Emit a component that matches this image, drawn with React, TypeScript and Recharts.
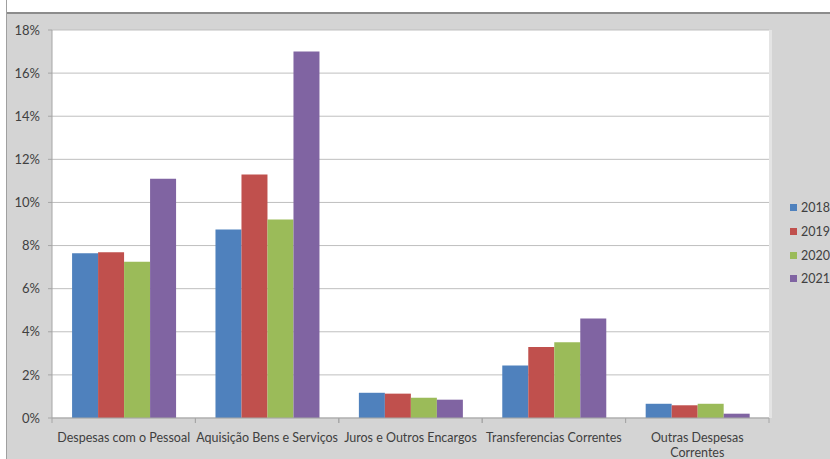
import React from "react";
import { BarChart, Bar, XAxis, YAxis, CartesianGrid } from "recharts";

const categories = [
  "Despesas com o Pessoal",
  "Aquisição Bens e Serviços",
  "Juros e Outros Encargos",
  "Transferencias Correntes",
  "Outras Despesas Correntes",
];
const v2018 = [7.64, 8.75, 1.17, 2.44, 0.66];
const v2019 = [7.69, 11.3, 1.13, 3.29, 0.59];
const v2020 = [7.25, 9.21, 0.94, 3.51, 0.66];
const v2021 = [11.1, 17.0, 0.85, 4.62, 0.2];
const years = ["2018", "2019", "2020", "2021"];
const yTicks = [0, 2, 4, 6, 8, 10, 12, 14, 16, 18];

const COLORS = ["#4f81bd", "#c0504d", "#9bbb59", "#8064a2"];
const FONT = "Lato, 'Open Sans', sans-serif";
const TEXT = "#404040";
const PANEL = "#d4d4d4";

// wrapped labels, as drawn in the original
const LABEL_LINES: Record<string, string[]> = {
  "Outras Despesas Correntes": ["Outras Despesas", "Correntes"],
};

const data = categories.map((name, i) => ({
  name,
  "2018": v2018[i],
  "2019": v2019[i],
  "2020": v2020[i],
  "2021": v2021[i],
}));

const W = 822;
const H = 445;
const M = { top: 16, right: 61, left: 0, bottom: 0 };
const Y_W = 44;
const PLOT_H = 388;
const PLOT_W = W - M.right - Y_W;
const BAND = PLOT_W / categories.length;

function CatTick(props: any) {
  const { x, y, payload } = props;
  const lines = LABEL_LINES[payload.value] || [payload.value];
  return (
    <g>
      <line x1={x - BAND / 2} x2={x - BAND / 2} y1={y} y2={y + 5} stroke="#a6a6a6" />
      <line x1={x + BAND / 2} x2={x + BAND / 2} y1={y} y2={y + 5} stroke="#a6a6a6" />
      <text x={x} y={y + 24} textAnchor="middle" fill={TEXT} fontSize={12.5} fontFamily={FONT}>
        {lines.map((l, i) => (
          <tspan key={i} x={x} dy={i === 0 ? 0 : 15}>
            {l}
          </tspan>
        ))}
      </text>
    </g>
  );
}

export default function App() {
  return (
    <div style={{ position: "absolute", left: 0, top: 0, width: 830, height: 459, backgroundColor: PANEL, overflow: "hidden" }}>
      <div style={{ position: "absolute", left: 0, top: 0, width: 830, height: 12, backgroundColor: "#ffffff", borderBottom: "2px solid #8c8c8c" }} />
      <div style={{ position: "absolute", left: 0, top: 0, width: 6, height: 459, backgroundColor: "#ffffff", borderRight: "1px solid #a0a0a0" }} />
      <div style={{ position: "absolute", left: 8, top: 14, width: W, height: H }}>
        {/* white plot area behind the svg */}
        <div
          style={{
            position: "absolute",
            left: Y_W,
            top: M.top,
            width: PLOT_W,
            height: PLOT_H,
            backgroundColor: "#ffffff",
            borderRight: "3px solid #e4e4e4",
          }}
        />
        <BarChart width={W} height={H} data={data} margin={M} barCategoryGap="14%" barGap={0}>
          <CartesianGrid vertical={false} stroke="#bfbfbf" fill="none" />
          <XAxis
            dataKey="name"
            height={H - M.top - PLOT_H}
            tickLine={false}
            tickSize={0}
            tickMargin={0}
            axisLine={{ stroke: "#a6a6a6" }}
            tick={<CatTick />}
            interval={0}
          />
          <YAxis
            width={Y_W}
            domain={[0, 18]}
            ticks={yTicks}
            tickFormatter={(v: number) => `${v}%`}
            tickSize={4}
            tickMargin={8}
            tickLine={{ stroke: "#a6a6a6" }}
            axisLine={{ stroke: "#a6a6a6" }}
            tick={{ fill: TEXT, fontSize: 13, fontFamily: FONT }}
            interval={0}
          />
          {years.map((yr, i) => (
            <Bar key={yr} dataKey={yr} fill={COLORS[i]} isAnimationActive={false} />
          ))}
        </BarChart>
        <div style={{ position: "absolute", left: 782, top: 182, fontFamily: FONT, fontSize: 12.5, color: TEXT }}>
          {years.map((yr, i) => (
            <div key={yr} style={{ display: "flex", alignItems: "center", height: 23.7, whiteSpace: "nowrap" }}>
              <span style={{ width: 7, height: 7, backgroundColor: COLORS[i], marginRight: 4, display: "inline-block" }} />
              {yr}
            </div>
          ))}
        </div>
      </div>
    </div>
  );
}
